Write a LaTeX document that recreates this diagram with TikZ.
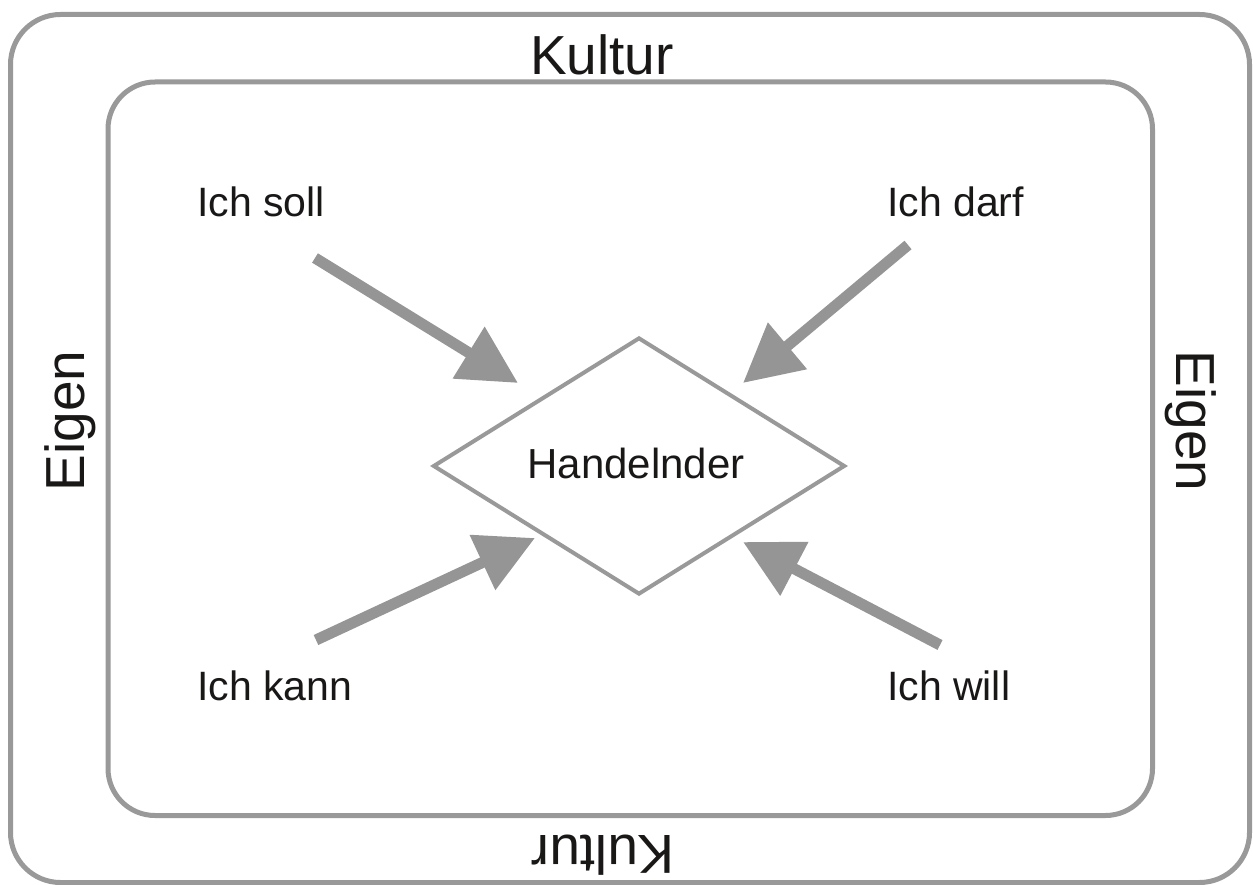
\documentclass[tikz,border=0pt]{standalone}
\usepackage{fontspec}
\setmainfont{Liberation Sans}
\usetikzlibrary{arrows.meta,shapes.geometric}
\definecolor{linegray}{HTML}{999999}
\definecolor{arrowgray}{HTML}{959595}
\definecolor{txt}{HTML}{1A1717}
\begin{document}
\begin{tikzpicture}[x=1pt,y=-1pt,
  frame/.style={draw=linegray, line width=5pt, rounded corners=50pt},
  lbl/.style={font=\fontsize{41}{49}\selectfont, text=txt, inner sep=0pt, anchor=base west},
  big/.style={font=\fontsize{55}{66}\selectfont, text=txt, inner sep=0pt, anchor=base},
  force/.style={draw=arrowgray, line width=11pt, -{Triangle[length=58pt,width=58pt]}, fill=arrowgray}]
\useasboundingbox (0,0) rectangle (1253,885);
\fill[white] (0,0) rectangle (1253,885);
\draw[frame] (10.5,14.5) rectangle (1249.5,882.5);
\draw[frame, rounded corners=47pt] (108,82) rectangle (1152.5,815.5);

\node[draw=linegray, line width=4pt, diamond, minimum width=412pt, minimum height=257pt, inner sep=0pt] (dia) at (639,466) {};
\node[font=\fontsize{42}{50}\selectfont, text=txt, inner sep=0pt, anchor=base] (hand) at (636,478) {Handelnder};

\node[big] (ktop) at (602,75) {Kultur};
\node[big, rotate=180] (kbot) at (603,835) {Kultur};
\node[big, rotate=90] (eleft) at (84,421) {Eigen};
\node[big, rotate=-90] (eright) at (1176,421) {Eigen};

\node[lbl] (soll) at (197,217) {Ich soll};
\node[lbl] (darf) at (887,217) {Ich darf};
\node[lbl] (kann) at (197,700) {Ich kann};
\node[lbl] (will) at (887,700) {Ich will};

\coordinate (s0) at (315,258); \coordinate (s1) at (518,383);
\coordinate (d0) at (908,245); \coordinate (d1) at (743,383);
\coordinate (k0) at (316,640); \coordinate (k1) at (535,538);
\coordinate (w0) at (940,645); \coordinate (w1) at (743,542);
\draw[force] (s0) -- (s1);
\draw[force] (d0) -- (d1);
\draw[force] (k0) -- (k1);
\draw[force] (w0) -- (w1);
\end{tikzpicture}
\end{document}
